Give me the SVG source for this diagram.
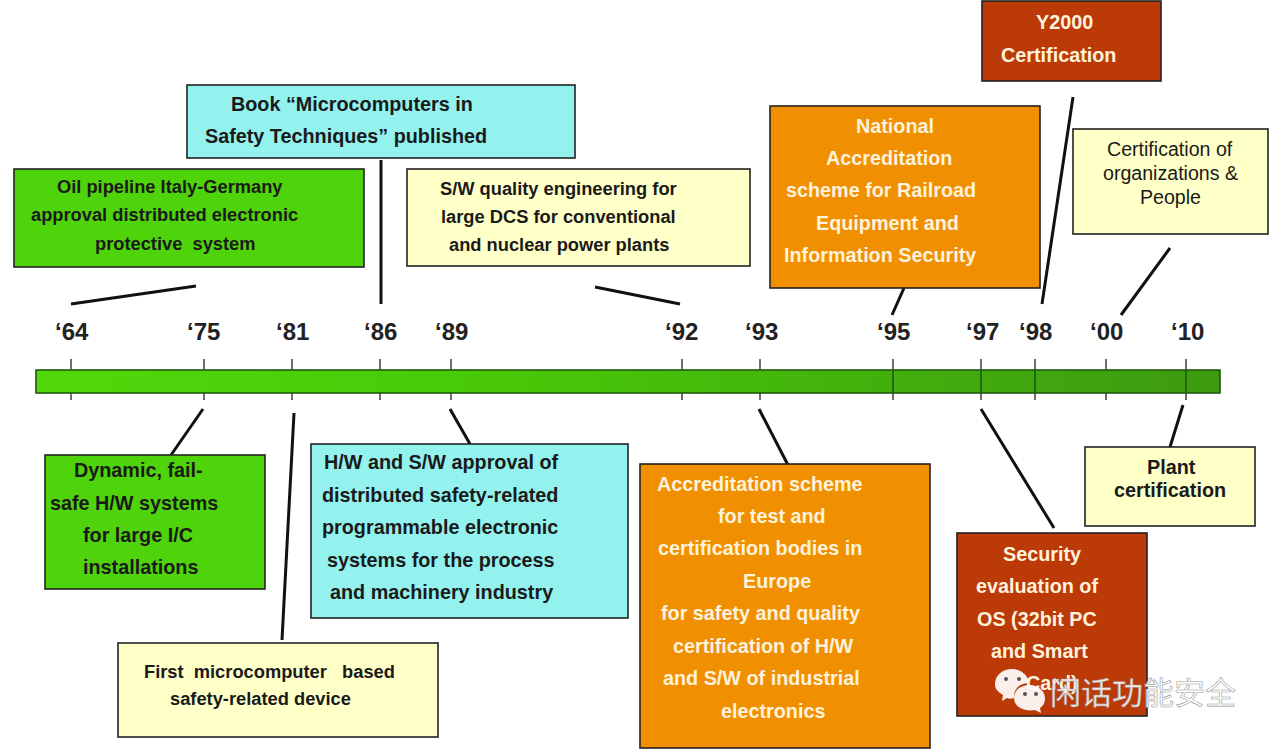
<svg xmlns="http://www.w3.org/2000/svg" width="1280" height="749" viewBox="0 0 1280 749">
<style>
text{font-family:"Liberation Sans",Arial,"Noto Sans CJK SC",sans-serif;font-weight:bold;font-size:18.3px;fill:#1a1a1a;white-space:pre}
.b{font-size:19.8px}
.w{fill:#fff2dc;font-size:19.8px}
.n{font-weight:normal;font-size:19.6px}
.yr{font-size:24px;fill:#222}
.box{stroke:#222;stroke-width:1.6}
.g{fill:#4fd30a}.c{fill:#93f2ee}.y{fill:#ffffc8}.o{fill:#f09000}.r{fill:#bb3a08}
.ln{stroke:#111;stroke-width:3;fill:none}
.tk{stroke:#333;stroke-width:1.4}
</style>
<defs><linearGradient id="bar" x1="0" x2="1" y1="0" y2="0"><stop offset="0" stop-color="#52d80c"/><stop offset="0.4" stop-color="#48c808"/><stop offset="1" stop-color="#3d9a10"/></linearGradient></defs>
<rect width="1280" height="749" fill="#fff"/>
<g id="timeline">
<path class="tk" d="M71 359V400M204 359V400M292 359V400M380 359V400M451 359V400M682 359V400M760 359V400M893 359V400M981 359V400M1035 359V400M1106 359V400M1186 359V400"/>
<rect x="36" y="370" width="1184" height="23" fill="url(#bar)" stroke="#1f5a10" stroke-width="1.6"/>
<path d="M893 370V393M981 370V393M1035 370V393M1186 370V393" stroke="#1f5a10" stroke-width="1.6"/>
<text class="yr" x="55" y="340">‘64</text><text class="yr" x="187" y="340">‘75</text><text class="yr" x="276" y="340">‘81</text><text class="yr" x="364" y="340">‘86</text><text class="yr" x="435" y="340">‘89</text><text class="yr" x="665" y="340">‘92</text><text class="yr" x="745" y="340">‘93</text><text class="yr" x="877" y="340">‘95</text><text class="yr" x="966" y="340">‘97</text><text class="yr" x="1019" y="340">‘98</text><text class="yr" x="1090" y="340">‘00</text><text class="yr" x="1171" y="340">‘10</text>
</g>
<g id="connectors">
<path class="ln" d="M71 304L196 286M381 160V304M595 287L680 304M904 288L892 315M1073 97L1042 304M1170 248L1121 315M203 409L171 455M294 413L282 640M450 409L470 444M759 409L788 465M981 409L1054 528M1183 405L1170 447"/>
</g>
<g id="n-oil"><rect class="box g" x="14" y="169" width="350" height="98"/>
<text x="57" y="193">Oil pipeline Italy-Germany</text><text x="31" y="221">approval distributed electronic</text><text x="95" y="250">protective  system</text></g>
<g id="n-book"><rect class="box c" x="187" y="85" width="388" height="73"/>
<text class="b" x="231" y="111">Book “Microcomputers in</text><text class="b" x="205" y="143">Safety Techniques” published</text></g>
<g id="n-sw"><rect class="box y" x="407" y="169" width="343" height="97"/>
<text x="440" y="195">S/W quality engineering for</text><text x="441" y="223">large DCS for conventional</text><text x="449" y="251">and nuclear power plants</text></g>
<g id="n-nat"><rect class="box o" x="770" y="106" width="270" height="182"/>
<text class="w" x="856" y="133">National</text><text class="w" x="826" y="165">Accreditation</text><text class="w" x="786" y="197">scheme for Railroad</text><text class="w" x="816" y="230">Equipment and</text><text class="w" x="784" y="262">Information Security</text></g>
<g id="n-y2k"><rect class="box r" x="982" y="1" width="179" height="80"/>
<text class="w" x="1036" y="29">Y2000</text><text class="w" x="1001" y="62">Certification</text></g>
<g id="n-org"><rect class="box y" x="1073" y="129" width="195" height="105"/>
<text class="n" x="1107" y="156">Certification of</text><text class="n" x="1103" y="180">organizations &amp;</text><text class="n" x="1140" y="204">People</text></g>
<g id="n-dyn"><rect class="box g" x="45" y="455" width="220" height="134"/>
<text class="b" x="74" y="477">Dynamic, fail-</text><text class="b" x="50" y="510">safe H/W systems</text><text class="b" x="83" y="542">for large I/C</text><text class="b" x="83" y="574">installations</text></g>
<g id="n-first"><rect class="box y" x="118" y="643" width="320" height="94"/>
<text x="144" y="678">First  microcomputer   based</text><text x="170" y="705">safety-related device</text></g>
<g id="n-hw"><rect class="box c" x="311" y="444" width="317" height="174"/>
<text class="b" x="324" y="469">H/W and S/W approval of</text><text class="b" x="322" y="502">distributed safety-related</text><text class="b" x="322" y="534">programmable electronic</text><text class="b" x="327" y="567">systems for the process</text><text class="b" x="330" y="599">and machinery industry</text></g>
<g id="n-acc"><rect class="box o" x="640" y="464" width="290" height="284"/>
<text class="w" x="657" y="491">Accreditation scheme</text><text class="w" x="718" y="523">for test and</text><text class="w" x="658" y="555">certification bodies in</text><text class="w" x="743" y="588">Europe</text><text class="w" x="661" y="620">for safety and quality</text><text class="w" x="673" y="653">certification of H/W</text><text class="w" x="663" y="685">and S/W of industrial</text><text class="w" x="721" y="718">electronics</text></g>
<g id="n-sec"><rect class="box r" x="957" y="533" width="190" height="183"/>
<text class="w" x="1003" y="561">Security</text><text class="w" x="976" y="593">evaluation of</text><text class="w" x="977" y="626">OS (32bit PC</text><text class="w" x="991" y="658">and Smart</text><text class="w" x="1026" y="690">Card)</text></g>
<g id="n-plant"><rect class="box y" x="1085" y="447" width="170" height="79"/>
<text class="b" x="1147" y="474">Plant</text><text class="b" x="1114" y="497">certification</text></g>
<g id="watermark">
<path d="M995 684C995 675 1003 669 1012 669C1021 669 1028 675 1029 683C1019 683 1013 690 1014 698C1011 699 1009 699 1007 698L1002 701L1003 695C998 692 995 689 995 684Z" fill="#fff" fill-opacity="0.92"/>
<path d="M1014 698C1014 690 1021 685 1030 685C1038 685 1045 691 1045 698C1045 703 1043 706 1040 708L1041 713L1035 710C1026 712 1014 708 1014 698Z" fill="#fff" fill-opacity="0.92"/>
<circle cx="1006" cy="679" r="2" fill="#555"/><circle cx="1019" cy="679" r="2" fill="#555"/><circle cx="1025" cy="694" r="2" fill="#555"/><circle cx="1036" cy="694" r="2" fill="#555"/>
<text x="1050" y="704" style="font-family:'Noto Sans CJK SC',sans-serif;font-weight:normal;font-size:31px;fill:#fff;stroke:#999;stroke-width:.6" fill-opacity="0.9">闲话功能安全</text>
</g>
</svg>
